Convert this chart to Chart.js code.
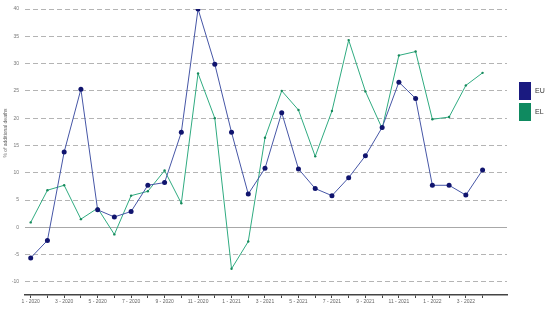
<!DOCTYPE html>
<html>
<head>
<meta charset="utf-8">
<script src="https://cdn.jsdelivr.net/npm/chart.js@4/dist/chart.umd.min.js"></script>
<style>
  body { margin: 0; background: #fff; }
  #wrap { position: relative; width: 550px; height: 313px; }
  .leg { position: absolute; left: 519px; font: 7px "Liberation Sans", Arial, sans-serif; color: #333; }
  .leg span { display: inline-block; width: 12px; height: 18px; vertical-align: middle; margin-right: 4px; }
</style>
</head>
<body>
<div id="wrap">
  <canvas id="chart"></canvas>
  <div class="leg" style="top:82px"><span style="background:#1a1a80"></span>EU</div>
  <div class="leg" style="top:103px"><span style="background:#0f8a60"></span>EL</div>
</div>
<script>
const months = ['1 - 2020', '2 - 2020', '3 - 2020', '4 - 2020', '5 - 2020', '6 - 2020', '7 - 2020', '8 - 2020',
  '9 - 2020', '10 - 2020', '11 - 2020', '12 - 2020', '1 - 2021', '2 - 2021', '3 - 2021', '4 - 2021',
  '5 - 2021', '6 - 2021', '7 - 2021', '8 - 2021', '9 - 2021', '10 - 2021', '11 - 2021', '12 - 2021',
  '1 - 2022', '2 - 2022', '3 - 2022', '4 - 2022'];

const euValues = [-5.6, -2.4, 13.8, 25.3, 3.2, 1.9, 2.9, 7.7, 8.2, 17.4, 40.0, 29.9, 17.4, 6.1,
  10.8, 21.0, 10.7, 7.1, 5.8, 9.1, 13.1, 18.3, 26.6, 23.6, 7.7, 7.7, 5.9, 10.5];

const elValues = [0.9, 6.8, 7.7, 1.5, 3.5, -1.3, 5.8, 6.6, 10.4, 4.4, 28.2, 20.0, -7.6, -2.6,
  16.4, 25.0, 21.5, 13.0, 21.3, 34.3, 24.9, 18.1, 31.5, 32.2, 19.8, 20.2, 26.0, 28.3];

const yTicks = [-10, -5, 0, 5, 10, 15, 20, 25, 30, 35, 40];

const font = { family: '"Liberation Sans", Arial, sans-serif', size: 5 };

// y axis title sits a bit above the middle in the original
const yTitle = {
  id: 'yTitle',
  afterDraw(chart) {
    const c = chart.ctx;
    c.save();
    c.translate(6, 133);
    c.rotate(-Math.PI / 2);
    c.font = '5px "Liberation Sans", Arial, sans-serif';
    c.fillStyle = '#666';
    c.textAlign = 'center';
    c.textBaseline = 'middle';
    c.fillText('% of additional deaths', 0, 0);
    c.restore();
  }
};

new Chart(document.getElementById('chart'), {
  type: 'line',
  data: {
    datasets: [{
      label: 'EU',
      data: euValues.map((v, i) => ({ x: i, y: v })),
      borderColor: '#4656a6',
      backgroundColor: '#10146e',
      borderWidth: 1,
      pointRadius: 2.5,
      pointBorderWidth: 0,
      tension: 0
    }, {
      label: 'EL',
      data: elValues.map((v, i) => ({ x: i, y: v })),
      borderColor: '#2fab80',
      backgroundColor: '#178a5c',
      borderWidth: 1,
      pointRadius: 1.2,
      pointBorderWidth: 0,
      tension: 0
    }]
  },
  options: {
    responsive: true,
    maintainAspectRatio: false,
    animation: false,
    layout: { padding: { top: 3, right: 43, left: 0, bottom: 0 } },
    plugins: { legend: { display: false }, tooltip: { enabled: false } },
    scales: {
      x: {
        type: 'linear',
        min: -0.34,
        max: 28.46,
        afterBuildTicks: axis => { axis.ticks = months.map((_, i) => ({ value: i })); },
        afterFit: scale => { scale.height = 18; },
        ticks: {
          autoSkip: false,
          maxRotation: 0,
          padding: 1,
          color: '#666',
          font: font,
          callback: v => (v % 2 === 0 ? months[v] : '')
        },
        grid: { drawOnChartArea: false, drawTicks: true, tickLength: 3, color: '#444' },
        border: { display: true, color: '#444', width: 1.5 }
      },
      y: {
        min: -12.4,
        max: 40,
        afterBuildTicks: axis => { axis.ticks = yTicks.map(v => ({ value: v })); },
        afterFit: scale => { scale.width = 25; },
        ticks: { padding: 6, color: '#777', font: font },
        grid: {
          drawTicks: false,
          color: ctx => (ctx.tick && ctx.tick.value === 0 ? '#a8a8a8' : '#b4b4b4'),
          lineWidth: 1
        },
        border: { display: false, dash: ctx => (ctx.tick && ctx.tick.value === 0 ? [] : [5, 3]) }
      }
    }
  },
  plugins: [yTitle]
});
</script>
</body>
</html>
